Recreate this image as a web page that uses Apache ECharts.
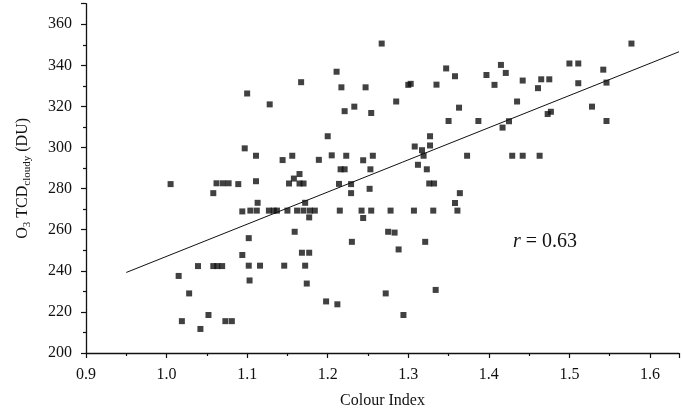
<!DOCTYPE html>
<html>
<head>
<meta charset="utf-8">
<script src="https://cdn.jsdelivr.net/npm/echarts@6.0.0/dist/echarts.min.js"></script>
<style>
  html, body { margin: 0; padding: 0; background: #fff; }
  #chart { width: 682px; height: 414px; }
</style>
</head>
<body>
<div id="chart"></div>
<script>
// colour index (x) and O3 TCD cloudy (y)
var colourIndex = [
  1.005, 1.062, 1.070, 1.077, 1.089, 1.058, 1.097, 1.094, 1.094, 1.039,
  1.058, 1.063, 1.069, 1.015, 1.028, 1.052, 1.019, 1.042, 1.073, 1.081,
  1.167, 1.100, 1.128, 1.200, 1.111, 1.144, 1.156, 1.189, 1.205, 1.111,
  1.165, 1.158, 1.152, 1.165, 1.170,
  1.113, 1.104, 1.112, 1.127, 1.133, 1.137, 1.150, 1.162, 1.170, 1.178,
  1.184, 1.172, 1.177, 1.102, 1.159, 1.168, 1.177, 1.102, 1.116, 1.146,
  1.172, 1.103, 1.174, 1.198,
  1.267, 1.211, 1.217, 1.247, 1.300, 1.303, 1.285, 1.233, 1.221, 1.254,
  1.223, 1.244, 1.256, 1.216, 1.221, 1.253, 1.308, 1.319, 1.312, 1.323,
  1.214, 1.229, 1.229, 1.252,
  1.215, 1.242, 1.254, 1.278, 1.307, 1.244, 1.275, 1.283, 1.230, 1.321,
  1.288, 1.272, 1.212, 1.294,
  1.415, 1.347, 1.421, 1.358, 1.397, 1.335, 1.407, 1.363, 1.350, 1.387,
  1.425, 1.417, 1.327, 1.327, 1.317, 1.373, 1.429, 1.326, 1.332, 1.364,
  1.358, 1.331, 1.361, 1.334,
  1.577, 1.500, 1.511, 1.542, 1.442, 1.465, 1.475, 1.511, 1.461, 1.546,
  1.435, 1.528, 1.477, 1.473, 1.546, 1.442, 1.463
];
var o3Cloudy = [
  282.2, 282.6, 282.6, 282.6, 282.2, 277.8, 299.6, 268.9, 247.7, 242.3,
  242.3, 242.3, 242.3, 237.5, 229.0, 218.5, 215.5, 211.7, 215.5, 215.5,
  331.8, 326.3, 321.0, 305.5, 296.0, 293.9, 296.0, 294.0, 296.2, 283.6,
  287.1, 284.9, 282.5, 282.5, 282.5,
  273.1, 269.3, 269.3, 269.3, 269.3, 269.3, 269.3, 269.3, 269.3, 269.3,
  269.3, 273.1, 266.0, 255.9, 259.0, 248.8, 248.8, 242.5, 242.5, 242.5,
  242.5, 235.3, 233.8, 225.1,
  350.6, 336.9, 329.3, 329.3, 330.5, 331.0, 322.4, 319.9, 317.7, 316.8,
  296.0, 293.8, 296.0, 289.4, 289.4, 289.4, 300.5, 296.0, 291.6, 289.4,
  282.3, 282.2, 277.8, 279.9,
  269.3, 269.3, 269.3, 269.3, 269.3, 265.7, 259.0, 258.6, 254.1, 254.1,
  250.4, 229.0, 223.7, 218.5,
  340.2, 338.5, 336.3, 334.7, 335.3, 330.6, 330.5, 319.4, 312.9, 312.9,
  312.8, 309.7, 305.5, 301.0, 298.7, 296.0, 296.0, 282.5, 282.5, 277.8,
  273.0, 269.3, 269.3, 230.7,
  350.6, 340.9, 340.9, 337.9, 332.6, 333.2, 333.2, 331.3, 328.9, 331.6,
  322.4, 319.9, 317.4, 316.3, 312.9, 296.0, 296.0
];

// fitted line end points
var fitX = [0.95, 1.636];
var fitY = [239.2, 346.6];

var corrText = '0.63';

var serif = '"Liberation Serif", "DejaVu Serif", serif';
var ink = '#111';

var points = [];
for (var i = 0; i < colourIndex.length; i++) {
  points.push([colourIndex[i], o3Cloudy[i]]);
}
var fitLine = [];
for (var j = 0; j < fitX.length; j++) {
  fitLine.push([fitX[j], fitY[j]]);
}

var chart = echarts.init(document.getElementById('chart'));

chart.setOption({
  animation: false,
  backgroundColor: '#fff',
  grid: { left: 86, right: 0, top: 3.7, bottom: 59.7 },
  xAxis: {
    type: 'value',
    min: 0.9,
    max: 1.636,
    interval: 0.1,
    name: 'Colour Index',
    nameLocation: 'middle',
    nameGap: 40,
    nameTextStyle: { fontFamily: serif, fontSize: 16, color: ink },
    axisLine: { lineStyle: { color: ink, width: 1.3 } },
    axisTick: { inside: false, length: 5, lineStyle: { color: ink, width: 1.2 } },
    minorTick: { show: true, splitNumber: 2, length: 3, lineStyle: { color: ink, width: 1.2 } },
    splitLine: { show: false },
    axisLabel: {
      margin: 14,
      fontFamily: serif,
      fontSize: 16,
      color: ink,
      formatter: function (v) {
        if (Math.abs(v * 10 - Math.round(v * 10)) > 1e-6) return '';
        return v.toFixed(1);
      }
    }
  },
  yAxis: {
    type: 'value',
    min: 200,
    max: 370,
    interval: 20,
    name: '{n|O}{s|3}{n| TCD}{s|cloudy}{n| (DU)}',
    nameLocation: 'middle',
    nameGap: 53,
    nameTextStyle: {
      rich: {
        n: { fontFamily: serif, fontSize: 16, color: ink },
        s: { fontFamily: serif, fontSize: 11, color: ink, padding: [10, 0, 0, 0] }
      }
    },
    axisLine: { show: true, lineStyle: { color: ink, width: 1.3 } },
    axisTick: { show: true, inside: false, length: 5, lineStyle: { color: ink, width: 1.2 } },
    minorTick: { show: true, splitNumber: 2, length: 3, lineStyle: { color: ink, width: 1.2 } },
    splitLine: { show: false },
    axisLabel: {
      margin: 14,
      fontFamily: serif,
      fontSize: 16,
      color: ink,
      formatter: function (v) {
        if (v % 20 !== 0) return '';
        return v;
      }
    }
  },
  series: [
    {
      type: 'scatter',
      data: points,
      symbol: 'rect',
      symbolSize: 6,
      itemStyle: { color: ink },
      silent: true,
      z: 3
    },
    {
      type: 'line',
      data: fitLine,
      symbol: 'none',
      lineStyle: { color: ink, width: 1 },
      silent: true,
      z: 2
    }
  ],
  graphic: [
    {
      type: 'text',
      left: 513,
      top: 232,
      style: {
        text: '{i|r} = ' + corrText,
        font: '20px ' + serif,
        fill: ink,
        rich: { i: { fontFamily: serif, fontStyle: 'italic', fontSize: 20, fill: ink } }
      }
    }
  ]
});
</script>
</body>
</html>
